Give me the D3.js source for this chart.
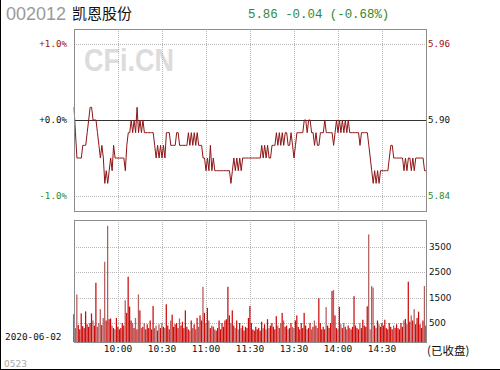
<!DOCTYPE html>
<html>
<head>
<meta charset="utf-8">
<script src="https://cdn.jsdelivr.net/npm/d3@7"></script>
<style>
  body { margin: 0; background: #fff; }
  svg { display: block; }
</style>
</head>
<body>
<svg id="chart" width="500" height="370"></svg>
<script>
// Minute prices, 9:30 - 11:30 and 13:00 - 15:00 (241 points)
const prices = [
  5.91,5.89,5.87,5.87,5.87,5.87,5.88,5.88,5.88,5.89,
  5.90,5.91,5.91,5.90,5.90,5.90,5.89,5.88,5.87,5.88,
  5.87,5.85,5.86,5.85,5.86,5.87,5.86,5.88,5.87,5.87,
  5.87,5.87,5.87,5.87,5.87,5.86,5.88,5.89,5.89,5.90,
  5.89,5.90,5.89,5.91,5.89,5.90,5.89,5.90,5.89,5.89,
  5.89,5.89,5.89,5.89,5.89,5.88,5.87,5.88,5.87,5.88,
  5.87,5.88,5.87,5.89,5.89,5.89,5.88,5.88,5.88,5.88,
  5.89,5.89,5.88,5.88,5.88,5.88,5.88,5.88,5.89,5.88,
  5.89,5.88,5.89,5.88,5.89,5.88,5.88,5.88,5.87,5.87,
  5.86,5.87,5.86,5.88,5.86,5.87,5.86,5.86,5.86,5.86,
  5.86,5.86,5.86,5.86,5.86,5.86,5.86,5.85,5.86,5.87,
  5.86,5.87,5.86,5.87,5.86,5.87,5.87,5.87,5.87,5.87,
  5.87,5.87,5.87,5.87,5.87,5.87,5.87,5.87,5.88,5.87,
  5.88,5.87,5.88,5.87,5.87,5.88,5.88,5.88,5.89,5.88,
  5.89,5.88,5.89,5.88,5.89,5.89,5.88,5.88,5.89,5.88,
  5.87,5.88,5.89,5.89,5.89,5.89,5.89,5.90,5.90,5.89,
  5.90,5.90,5.89,5.89,5.88,5.89,5.88,5.88,5.89,5.89,
  5.89,5.90,5.89,5.89,5.89,5.89,5.89,5.88,5.89,5.90,
  5.89,5.90,5.89,5.90,5.89,5.90,5.89,5.90,5.89,5.89,
  5.89,5.89,5.89,5.89,5.89,5.88,5.89,5.89,5.89,5.89,
  5.89,5.88,5.87,5.86,5.85,5.86,5.85,5.86,5.85,5.86,
  5.86,5.86,5.86,5.86,5.86,5.87,5.88,5.88,5.87,5.87,
  5.87,5.87,5.87,5.87,5.87,5.86,5.87,5.86,5.87,5.87,
  5.86,5.87,5.86,5.87,5.87,5.87,5.87,5.87,5.87,5.86,
  5.86
];

// Minute volumes (lots)
const volumes = [
  850,300,1630,420,250,880,380,300,960,450,
  350,500,880,600,400,2090,350,500,1050,420,
  700,2920,600,4340,650,680,400,300,250,700,
  350,250,300,500,400,1400,900,2330,1150,600,
  500,300,700,250,1630,1000,300,350,500,250,
  450,300,600,250,1170,300,400,200,450,300,
  500,350,300,1240,400,250,600,830,350,450,
  500,300,680,400,550,300,1000,350,250,200,
  600,300,450,250,700,350,800,600,1930,900,
  500,1100,600,300,400,350,250,200,300,600,
  250,500,350,600,650,1930,800,500,1000,400,
  300,600,250,500,300,400,200,350,300,700,
  1170,500,250,200,350,250,300,200,550,300,
  450,250,650,300,400,500,350,250,770,400,
  300,500,900,600,350,400,250,300,500,350,
  300,600,800,350,250,500,300,900,400,250,
  300,500,250,350,600,400,300,1480,500,250,
  350,250,1130,400,300,500,1765,1800,800,300,
  250,1140,450,300,500,350,250,400,300,250,
  350,1560,400,300,250,500,300,630,400,350,
  1160,4000,250,1960,1900,400,300,600,450,350,
  500,400,630,300,250,500,350,250,400,300,
  450,300,250,500,350,600,660,450,2130,550,
  800,600,1050,450,700,950,450,300,600,1960,
  400
];

const prevClose = 5.90;
const priceTicks = [5.96, 5.90, 5.84];
const pctLabels = ['+1.0%', '+0.0%', '-1.0%'];
const volTicks = [500, 1500, 2500, 3500];
const timeTicks = [30, 60, 90, 120, 150, 180, 210];
const timeLabels = ['10:00', '10:30', '11:00', '11:30', '13:30', '14:00', '14:30'];

const code = '002012';
const name = '凯恩股份';
const quote = '5.86 -0.04 (-0.68%)';
const date = '2020-06-02';

const svg = d3.select('#chart');

const left = 74, right = 426;
const pTop = 29, pBottom = 211;
const vTop = 220, vBottom = 342;

const x = d3.scaleLinear().domain([0, 240]).range([left, right]);
const y = d3.scaleLinear().domain([prevClose - 0.0718, prevClose + 0.0718]).range([pBottom, pTop]);
const yv = d3.scaleLinear().domain([-250, 4570]).range([vBottom, vTop]);

const red = '#a01010', green = '#2f8a2f';
const tickColor = (d, i) => i === 0 ? red : (i === 2 ? green : '#111');

// outer frame (left + bottom)
svg.append('line').attr('x1', 0.5).attr('x2', 0.5).attr('y1', 0).attr('y2', 370).attr('stroke', '#000');
svg.append('line').attr('x1', 0).attr('x2', 500).attr('y1', 369.5).attr('y2', 369.5).attr('stroke', '#000');

// header
svg.append('text').attr('x', 6).attr('y', 20).text(code)
  .attr('font-family', 'Liberation Sans, Arial, sans-serif').attr('font-size', 18).attr('fill', '#9a9a9a');
svg.append('text').attr('x', 72).attr('y', 19).text(name)
  .attr('font-family', 'Noto Sans CJK SC, sans-serif').attr('font-size', 15).attr('fill', '#111');
svg.append('text').attr('x', 248).attr('y', 18).text(quote)
  .attr('font-family', 'Liberation Mono, monospace').attr('font-size', 12.4).attr('fill', green);

// watermark
svg.append('text').attr('x', 84).attr('y', 71).text('CFi.CN')
  .attr('font-family', 'Liberation Sans, Arial, sans-serif').attr('font-weight', 'bold')
  .attr('font-size', 32).attr('textLength', 90).attr('lengthAdjust', 'spacingAndGlyphs')
  .attr('fill', '#dcdcdc');

// grids
const grid = svg.append('g').attr('stroke', '#b8b8b8').attr('stroke-dasharray', '1,1');
grid.selectAll('.vp').data(timeTicks).join('line')
  .attr('x1', d => Math.round(x(d)) + 0.5).attr('x2', d => Math.round(x(d)) + 0.5)
  .attr('y1', pTop).attr('y2', pBottom);
grid.selectAll('.vv').data(timeTicks).join('line')
  .attr('x1', d => Math.round(x(d)) + 0.5).attr('x2', d => Math.round(x(d)) + 0.5)
  .attr('y1', vTop).attr('y2', vBottom);
grid.selectAll('.hp').data([priceTicks[0], priceTicks[2]]).join('line')
  .attr('x1', left).attr('x2', right)
  .attr('y1', d => Math.round(y(d)) + 0.5).attr('y2', d => Math.round(y(d)) + 0.5);
grid.selectAll('.hv').data(volTicks).join('line')
  .attr('x1', left).attr('x2', right)
  .attr('y1', d => Math.round(yv(d)) + 0.5).attr('y2', d => Math.round(yv(d)) + 0.5);

// volume bars
const bw = (right - left) / 241;
svg.append('g')
  .selectAll('rect')
  .data(volumes)
  .join('rect')
    .attr('x', (d, i) => x(i) - bw / 2)
    .attr('width', bw * 0.85)
    .attr('y', d => yv(d))
    .attr('height', d => vBottom - yv(d))
    .attr('fill', (d, i) => i > 0 && prices[i] < prices[i - 1] ? '#b35c5c' : '#cc0a0a');

// prev close line
svg.append('line')
  .attr('x1', left).attr('x2', right)
  .attr('y1', Math.round(y(prevClose)) + 0.5).attr('y2', Math.round(y(prevClose)) + 0.5)
  .attr('stroke', '#333').attr('stroke-width', 1.2);

// price line
svg.append('path')
  .datum(prices)
  .attr('fill', 'none')
  .attr('stroke', '#8e1414')
  .attr('stroke-width', 1)
  .attr('d', d3.line().x((d, i) => x(i)).y(d => y(d)));

// panel borders
svg.append('rect').attr('x', left + 0.5).attr('y', pTop + 0.5)
  .attr('width', right - left).attr('height', pBottom - pTop)
  .attr('fill', 'none').attr('stroke', '#8c8c8c');
svg.append('rect').attr('x', left + 0.5).attr('y', vTop + 0.5)
  .attr('width', right - left).attr('height', vBottom - vTop)
  .attr('fill', 'none').attr('stroke', '#8c8c8c');

// axis labels
const mono = 'DejaVu Sans Mono, monospace';
svg.append('g').selectAll('text').data(pctLabels).join('text')
  .attr('x', 67).attr('y', (d, i) => y(priceTicks[i])).attr('dy', '0.35em')
  .attr('text-anchor', 'end').attr('font-family', mono).attr('font-size', 9.2)
  .attr('fill', tickColor).text(d => d);
svg.append('g').selectAll('text').data(priceTicks).join('text')
  .attr('x', 428).attr('y', d => y(d)).attr('dy', '0.35em')
  .attr('font-family', mono).attr('font-size', 9.2)
  .attr('fill', tickColor).text(d => d.toFixed(2));
svg.append('g').selectAll('text').data(volTicks).join('text')
  .attr('x', 429).attr('y', d => yv(d)).attr('dy', '0.35em')
  .attr('font-family', 'DejaVu Sans, sans-serif').attr('font-size', 8.8)
  .attr('fill', '#111').text(d => d);
svg.append('g').selectAll('text').data(timeTicks).join('text')
  .attr('x', d => x(d)).attr('y', 352).attr('text-anchor', 'middle')
  .attr('font-family', mono).attr('font-size', 9.5)
  .attr('fill', '#111').text((d, i) => timeLabels[i]);

svg.append('text').attr('x', 5).attr('y', 340).text(date)
  .attr('font-family', mono).attr('font-size', 9.4).attr('fill', '#111');
svg.append('text').attr('x', 427).attr('y', 355).text('(已收盘)')
  .attr('font-family', 'Noto Sans CJK SC, sans-serif').attr('font-size', 11.5).attr('fill', '#111');
svg.append('text').attr('x', 4).attr('y', 367).text('0523')
  .attr('font-family', 'DejaVu Sans, sans-serif').attr('font-size', 9).attr('fill', '#aaa');
</script>
</body>
</html>
